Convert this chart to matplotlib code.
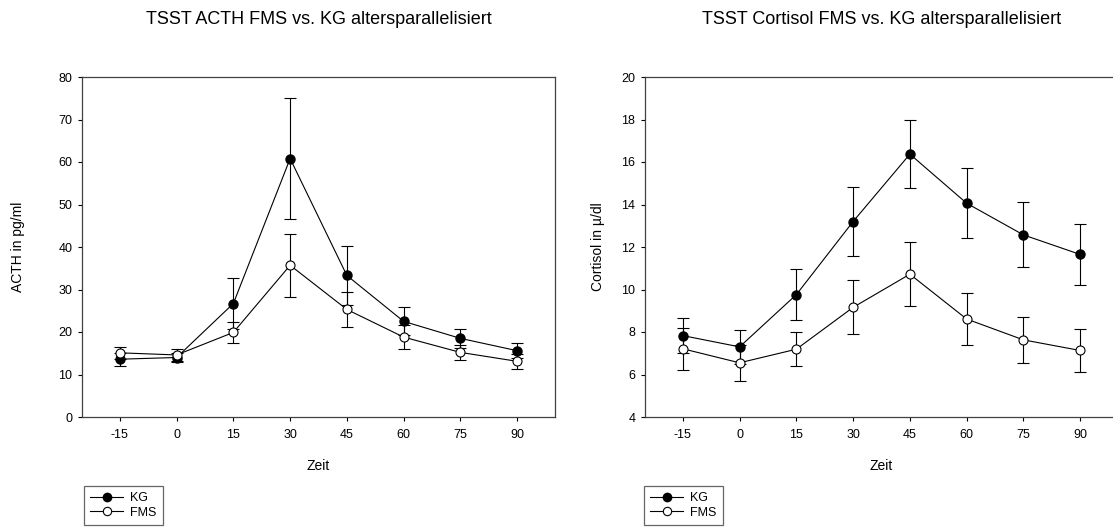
import matplotlib
matplotlib.use("Agg")
import matplotlib.pyplot as plt
from matplotlib.lines import Line2D

plt.rcParams['font.family'] = ['Liberation Sans', 'DejaVu Sans']
plt.rcParams['axes.unicode_minus'] = False

zeit = [-15, 0, 15, 30, 45, 60, 75, 90]

# ACTH (pg/ml), Mittelwert und Fehler
acth_kg = [13.6, 14.0, 26.7, 60.8, 33.3, 22.5, 18.5, 15.6]
acth_kg_err = [1.5, 1.0, 6.0, 14.3, 7.0, 3.3, 2.2, 1.8]
acth_fms = [15.1, 14.6, 19.9, 35.7, 25.3, 18.8, 15.2, 13.1]
acth_fms_err = [1.4, 1.4, 2.4, 7.4, 4.2, 2.8, 1.7, 1.7]

# Cortisol (µ/dl)
cort_kg = [7.83, 7.30, 9.76, 13.20, 16.37, 14.06, 12.57, 11.65]
cort_kg_err = [0.83, 0.81, 1.20, 1.64, 1.60, 1.64, 1.53, 1.45]
cort_fms = [7.21, 6.55, 7.19, 9.16, 10.72, 8.61, 7.63, 7.13]
cort_fms_err = [1.00, 0.86, 0.80, 1.27, 1.50, 1.24, 1.07, 1.00]

W, H = 1113, 527
fig = plt.figure(figsize=(W / 100, H / 100), dpi=100)

ax_w = 473 / W
ax_b = (H - 417) / H
ax_h = 340 / H
ax1 = fig.add_axes([82 / W, ax_b, ax_w, ax_h])
ax2 = fig.add_axes([645 / W, ax_b, ax_w, ax_h])


def panel(ax, kg, kg_err, fms, fms_err, ylim, yticks, ylabel, title):
    ax.errorbar(zeit, kg, yerr=kg_err, color='black', lw=0.8, marker='o',
                ms=6.5, mfc='black', mec='black', capsize=4.2, elinewidth=0.8,
                capthick=0.8, zorder=3)
    ax.errorbar(zeit, fms, yerr=fms_err, color='black', lw=0.8, marker='o',
                ms=6.5, mfc='white', mec='black', mew=0.8, capsize=4.2,
                elinewidth=0.8, capthick=0.8, zorder=3)
    ax.set_xlim(-25, 100)
    ax.set_ylim(*ylim)
    ax.set_xticks(zeit)
    ax.set_yticks(yticks)
    ax.tick_params(direction='out', length=3, width=0.8, labelsize=9,
                   top=False, right=False)
    ax.tick_params(axis='x', pad=6)
    ax.tick_params(axis='y', pad=4)
    for s in ax.spines.values():
        s.set_linewidth(0.9)
        s.set_color('#404040')
    ax.set_xlabel('Zeit', fontsize=10)
    ax.xaxis.set_label_coords(0.5, -0.125)
    ax.set_ylabel(ylabel, fontsize=10)
    pos = ax.get_position()
    fig.text(pos.x0 + pos.width / 2, 1 - 20 / H, title, fontsize=13,
             ha='center', va='center')


panel(ax1, acth_kg, acth_kg_err, acth_fms, acth_fms_err, (0, 80),
      range(0, 81, 10), 'ACTH in pg/ml',
      'TSST ACTH FMS vs. KG altersparallelisiert')
panel(ax2, cort_kg, cort_kg_err, cort_fms, cort_fms_err, (4, 20),
      range(4, 21, 2), 'Cortisol in µ/dl',
      'TSST Cortisol FMS vs. KG altersparallelisiert')
ax1.yaxis.set_label_coords(-0.12, 0.5)
ax2.yaxis.set_label_coords(-0.085, 0.5)

handles = [
    Line2D([], [], color='black', lw=0.8, marker='o', ms=6, mfc='black', mec='black'),
    Line2D([], [], color='black', lw=0.8, marker='o', ms=6, mfc='white', mec='black', mew=0.8),
]
for x0 in (84, 644):
    leg = fig.legend(handles, ['KG', 'FMS'], loc='upper left',
                     bbox_to_anchor=(x0 / W, 1 - 486 / H), fontsize=9,
                     frameon=True, fancybox=False, handlelength=2.6,
                     handletextpad=0.6, borderpad=0.5, labelspacing=0.2,
                     borderaxespad=0)
    leg.get_frame().set_edgecolor('#404040')
    leg.get_frame().set_linewidth(0.9)

fig.savefig('out.png', dpi=100)
